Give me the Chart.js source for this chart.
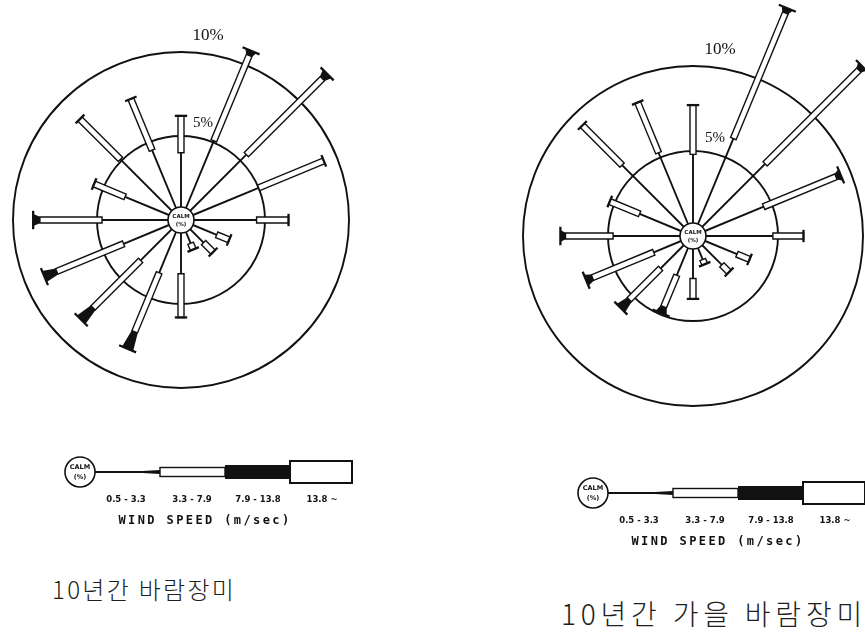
<!DOCTYPE html>
<html>
<head>
<meta charset="utf-8">
<script src="https://cdn.jsdelivr.net/npm/chart.js@4.4.1/dist/chart.umd.min.js"></script>
<style>
  html, body { margin: 0; padding: 0; background: #fff; }
  body { width: 865px; height: 637px; position: relative; overflow: hidden; }
  canvas { position: absolute; }
  .caption {
    position: absolute; white-space: nowrap; color: #1e1e1e;
    font-family: "Noto Sans CJK KR", sans-serif; font-weight: 300; line-height: 1;
  }
</style>
</head>
<body>
<canvas id="roseYear" width="362" height="545" style="left:0;top:0"></canvas>
<canvas id="roseAutumn" width="435" height="565" style="left:430px;top:0"></canvas>
<div class="caption" style="left:52px;top:577px;font-size:24px;letter-spacing:2.3px">10년간 바람장미</div>
<div class="caption" style="left:561px;top:599px;font-size:28px;letter-spacing:4.8px">10년간 가을 바람장미</div>

<script>
// 16 compass points, clockwise from north
const directions = ['N', 'NNE', 'NE', 'ENE', 'E', 'ESE', 'SE', 'SSE',
                    'S', 'SSW', 'SW', 'WSW', 'W', 'WNW', 'NW', 'NNW'];
// wind speed classes (m/sec)
const speedClasses = ['0.5 - 3.3', '3.3 - 7.9', '7.9 - 13.8', '13.8 ~'];
// ring values (%)
const ringTicks = [0, 5, 10];

// 10-year rose: frequency (%) of each speed class per direction
const yearLight    = [4.0, 5.1, 5.5, 5.0, 4.5, 2.3, 1.9, 1.5, 3.2, 3.4, 3.4, 3.7, 4.7, 3.6, 5.1, 4.5];
const yearModerate = [2.2, 5.5, 6.4, 4.2, 1.9, 0.8, 0.8, 0.4, 2.6, 3.8, 4.0, 4.3, 3.7, 2.0, 3.4, 3.3];
const yearFresh    = [0.0, 0.3, 0.4, 0.0, 0.0, 0.0, 0.0, 0.0, 0.0, 1.1, 1.0, 0.8, 0.4, 0.0, 0.0, 0.0];
const yearStrong   = [0, 0, 0, 0, 0, 0, 0, 0, 0, 0, 0, 0, 0, 0, 0, 0];

// 10-year autumn rose
const autumnLight    = [4.8, 6.2, 6.0, 4.5, 4.7, 2.8, 2.4, 1.5, 2.5, 2.5, 2.7, 2.5, 4.7, 3.4, 5.9, 5.3];
const autumnModerate = [2.9, 8.0, 7.8, 4.6, 1.8, 0.8, 0.6, 0.3, 1.2, 2.0, 2.6, 3.9, 2.8, 1.9, 3.3, 3.2];
const autumnFresh    = [0.0, 0.3, 0.3, 0.3, 0.0, 0.0, 0.0, 0.0, 0.0, 0.4, 0.7, 0.4, 0.3, 0.0, 0.0, 0.0];
const autumnStrong   = [0, 0, 0, 0, 0, 0, 0, 0, 0, 0, 0, 0, 0, 0, 0, 0];

const INK = '#111';

// quadrilateral along a spoke between distances d0..d1, half widths h0..h1
function spokeQuad(ctx, cx, cy, ux, uy, d0, d1, h0, h1, fill, stroke, lw) {
  const px = -uy, py = ux;
  ctx.beginPath();
  ctx.moveTo(cx + ux * d0 + px * h0, cy + uy * d0 + py * h0);
  ctx.lineTo(cx + ux * d1 + px * h1, cy + uy * d1 + py * h1);
  ctx.lineTo(cx + ux * d1 - px * h1, cy + uy * d1 - py * h1);
  ctx.lineTo(cx + ux * d0 - px * h0, cy + uy * d0 - py * h0);
  ctx.closePath();
  ctx.fillStyle = fill;
  ctx.fill();
  if (stroke) { ctx.strokeStyle = stroke; ctx.lineWidth = lw; ctx.stroke(); }
}

function calmBadge(ctx, x, y, rad, fs) {
  ctx.beginPath();
  ctx.arc(x, y, rad, 0, Math.PI * 2);
  ctx.fillStyle = '#fff';
  ctx.fill();
  ctx.lineWidth = 1.6;
  ctx.strokeStyle = INK;
  ctx.stroke();
  ctx.fillStyle = INK;
  ctx.textAlign = 'center';
  ctx.textBaseline = 'middle';
  ctx.font = `bold ${fs}px "DejaVu Sans"`;
  ctx.fillText('CALM', x, y - rad * 0.3);
  ctx.fillText('(%)', x, y + rad * 0.38);
}

function drawSpeedLegend(ctx, x, y) {
  calmBadge(ctx, x, y, 15, 6.5);
  ctx.strokeStyle = INK;
  ctx.lineWidth = 2;
  ctx.beginPath(); ctx.moveTo(x + 15, y); ctx.lineTo(x + 66, y); ctx.stroke();
  ctx.fillStyle = INK;
  ctx.beginPath();
  ctx.moveTo(x + 62, y - 1); ctx.lineTo(x + 80, y - 2); ctx.lineTo(x + 80, y + 2); ctx.lineTo(x + 62, y + 1);
  ctx.closePath(); ctx.fill();
  // 3.3 - 7.9 : narrow open bar
  ctx.fillStyle = '#fff';
  ctx.fillRect(x + 80, y - 4.5, 65, 9);
  ctx.lineWidth = 1.4;
  ctx.strokeRect(x + 80, y - 4.5, 65, 9);
  // 7.9 - 13.8 : solid bar
  ctx.fillStyle = INK;
  ctx.fillRect(x + 145, y - 7, 65, 14);
  // 13.8 ~ : wide open bar
  ctx.fillStyle = '#fff';
  ctx.fillRect(x + 210, y - 11, 62, 22);
  ctx.lineWidth = 2;
  ctx.strokeRect(x + 210, y - 11, 62, 22);

  ctx.fillStyle = INK;
  ctx.textAlign = 'center';
  ctx.textBaseline = 'middle';
  ctx.font = 'bold 8.5px "DejaVu Sans"';
  const labelX = [46, 112, 178, 242];
  speedClasses.forEach((s, k) => ctx.fillText(s, x + labelX[k], y + 28));
  ctx.font = 'bold 12px "DejaVu Sans Mono"';
  ctx.letterSpacing = '2.4px';
  ctx.fillText('WIND SPEED (m/sec)', x + 125, y + 49);
  ctx.letterSpacing = '0px';
}

const windRosePlugin = {
  id: 'windRose',
  afterDatasetsDraw(chart, args, o) {
    const r = chart.scales.r;
    const ctx = chart.ctx;
    const cx = r.xCenter, cy = r.yCenter;
    const sets = chart.data.datasets;
    ctx.save();
    chart.data.labels.forEach((lab, i) => {
      const p = r.getPointPosition(i, 100);
      const ux = (p.x - cx) / 100, uy = (p.y - cy) / 100;
      let acc = 0;
      const d = [r.getDistanceFromCenterForValue(0)];
      sets.forEach(s => { acc += s.data[i]; d.push(r.getDistanceFromCenterForValue(acc)); });

      ctx.strokeStyle = INK;
      ctx.lineWidth = 1.9;
      ctx.beginPath();
      ctx.moveTo(cx + ux * d[0], cy + uy * d[0]);
      ctx.lineTo(cx + ux * d[1], cy + uy * d[1]);
      ctx.stroke();

      let hw = 1;
      if (d[2] > d[1] + 0.1) { spokeQuad(ctx, cx, cy, ux, uy, d[1], d[2], 3, 3, '#fff', INK, 1.4); hw = 3; }
      if (d[3] > d[2] + 0.1) { spokeQuad(ctx, cx, cy, ux, uy, d[2], d[3], 3.3, 6, INK); hw = 6; }
      if (d[4] > d[3] + 0.1) { spokeQuad(ctx, cx, cy, ux, uy, d[3], d[4], 7, 7, '#fff', INK, 1.4); hw = 7; }

      // end cap across the tip
      const tip = d[4];
      const px = -uy, py = ux, half = hw + 3.2;
      ctx.strokeStyle = INK;
      ctx.lineWidth = 2.3;
      ctx.beginPath();
      ctx.moveTo(cx + ux * tip + px * half, cy + uy * tip + py * half);
      ctx.lineTo(cx + ux * tip - px * half, cy + uy * tip - py * half);
      ctx.stroke();
    });

    calmBadge(ctx, cx, cy, 13, 5.5);

    // ring labels
    ctx.fillStyle = INK;
    ctx.textAlign = 'center';
    ctx.textBaseline = 'middle';
    ctx.font = '17px "Liberation Serif"';
    ctx.fillText('10%', cx + 27, cy - r.getDistanceFromCenterForValue(10) - 16);
    ctx.font = '15px "Liberation Serif"';
    ctx.fillText('5%', cx + 22, cy - r.getDistanceFromCenterForValue(5) - 13);

    drawSpeedLegend(ctx, o.legendX, o.legendY);
    ctx.restore();
  }
};

function makeRose(id, light, moderate, fresh, strong, maxValue, padding, legendX, legendY) {
  const hidden = { fill: false, borderWidth: 0, pointRadius: 0, backgroundColor: 'rgba(0,0,0,0)', borderColor: 'rgba(0,0,0,0)' };
  return new Chart(document.getElementById(id), {
    type: 'radar',
    data: {
      labels: directions,
      datasets: [
        { label: speedClasses[0], data: light, ...hidden },
        { label: speedClasses[1], data: moderate, ...hidden },
        { label: speedClasses[2], data: fresh, ...hidden },
        { label: speedClasses[3], data: strong, ...hidden }
      ]
    },
    options: {
      responsive: false,
      animation: false,
      layout: { padding },
      plugins: {
        legend: { display: false },
        tooltip: { enabled: false },
        windRose: { legendX, legendY }
      },
      scales: {
        r: {
          min: 0,
          max: maxValue,
          afterBuildTicks: (scale) => { scale.ticks = ringTicks.map(v => ({ value: v })); },
          ticks: { display: false },
          pointLabels: { display: false },
          angleLines: { display: false },
          grid: { circular: true, color: INK, lineWidth: 1.9 }
        }
      }
    },
    plugins: [windRosePlugin]
  });
}

// drawing radius 181 px -> 10 % ring at 168 px
makeRose('roseYear', yearLight, yearModerate, yearFresh, yearStrong,
         10 * 181 / 168, { top: 0, left: 0, right: 0, bottom: 105 }, 80, 472);
// drawing radius 172 px -> 10 % ring at 170 px
makeRose('roseAutumn', autumnLight, autumnModerate, autumnFresh, autumnStrong,
         10 * 172 / 170, { top: 0, left: 91, right: 0, bottom: 93 }, 163, 493);
</script>
</body>
</html>
